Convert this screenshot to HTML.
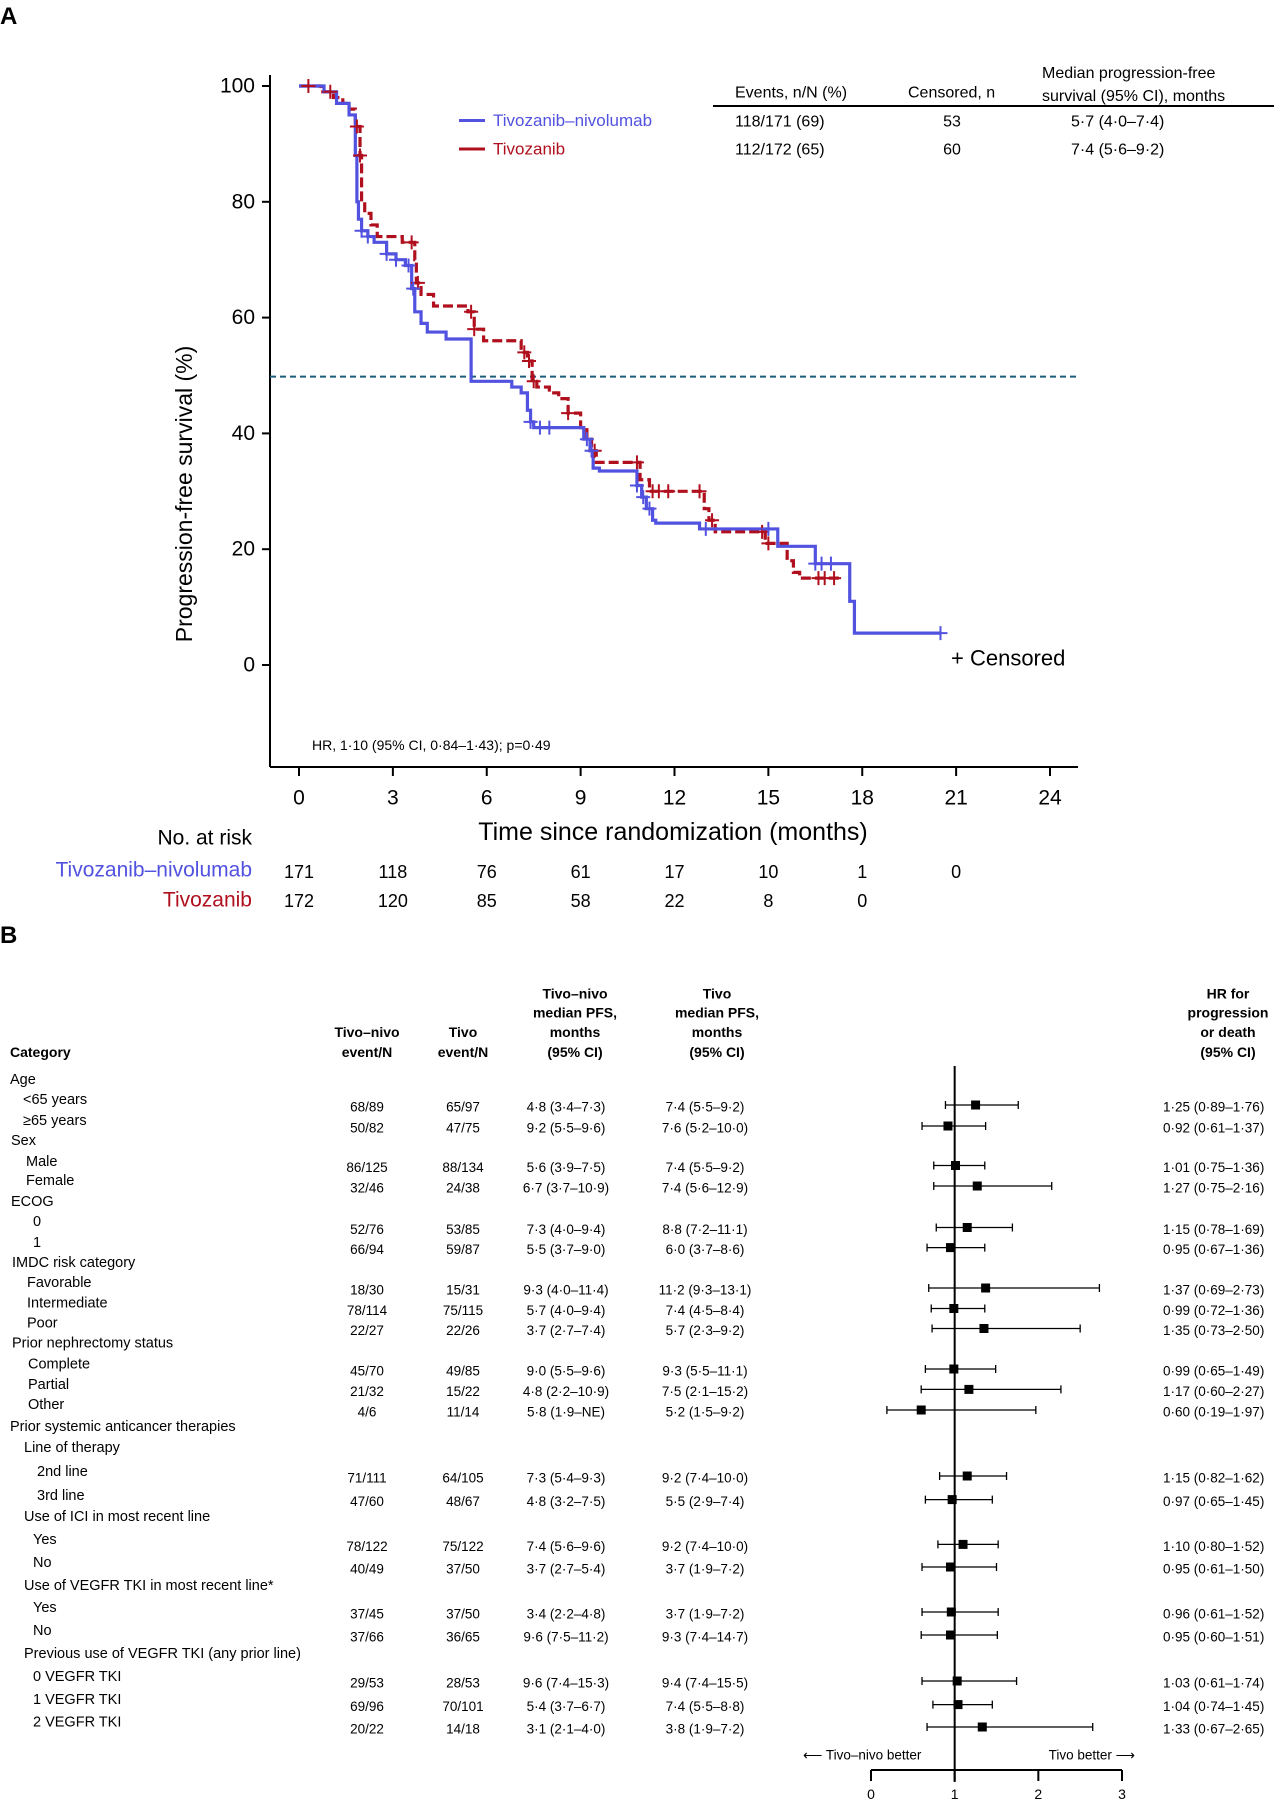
<!DOCTYPE html>
<html><head><meta charset="utf-8"><style>
html,body{margin:0;padding:0;background:#fff;}
svg{display:block;font-family:"Liberation Sans",Arial,sans-serif;}
</style></head><body>
<svg id="fig" width="1274" height="1800" viewBox="0 0 1274 1800">
<text x="0" y="24" font-size="24" font-weight="bold">A</text>
<g id="km">
  <line x1="270" y1="75" x2="270" y2="767" stroke="#000" stroke-width="2"/>
  <line x1="270" y1="767" x2="1078" y2="767" stroke="#000" stroke-width="2"/>
  <line x1="270" y1="376.6" x2="1078" y2="376.6" stroke="#1d5c7a" stroke-width="2" stroke-dasharray="6,4"/>
  <text transform="translate(184,494) rotate(-90)" text-anchor="middle" dominant-baseline="central" font-size="23">Progression-free survival (%)</text>
  <text x="673" y="832" text-anchor="middle" dominant-baseline="central" font-size="25">Time since randomization (months)</text>
  <g>
    <line x1="459" y1="120.5" x2="485" y2="120.5" stroke="#5252e0" stroke-width="3"/>
    <text x="493" y="120.5" dominant-baseline="central" font-size="17" fill="#5252e0">Tivozanib–nivolumab</text>
    <line x1="459" y1="149" x2="485" y2="149" stroke="#b0101e" stroke-width="3"/>
    <text x="493" y="149" dominant-baseline="central" font-size="17" fill="#b0101e">Tivozanib</text>
  </g>
  <g font-size="16">
    <text x="735" y="93" dominant-baseline="central">Events, n/N (%)</text>
    <text x="908" y="93" dominant-baseline="central">Censored, n</text>
    <text x="1042" y="73.5" dominant-baseline="central">Median progression-free</text>
    <text x="1042" y="96.5" dominant-baseline="central">survival (95% CI), months</text>
    <line x1="713" y1="106" x2="1274" y2="106" stroke="#000" stroke-width="2"/>
    <text x="735" y="122" dominant-baseline="central">118/171 (69)</text>
    <text x="952" y="122" text-anchor="middle" dominant-baseline="central">53</text>
    <text x="1071" y="122" dominant-baseline="central">5·7 (4·0–7·4)</text>
    <text x="735" y="150" dominant-baseline="central">112/172 (65)</text>
    <text x="952" y="150" text-anchor="middle" dominant-baseline="central">60</text>
    <text x="1071" y="150" dominant-baseline="central">7·4 (5·6–9·2)</text>
  </g>
  <text x="951" y="658" dominant-baseline="central" font-size="22">+ Censored</text>
  <text x="312" y="745" dominant-baseline="central" font-size="14">HR, 1·10 (95% CI, 0·84–1·43); p=0·49</text>
  <text x="252" y="838" text-anchor="end" dominant-baseline="central" font-size="21">No. at risk</text>
  <text x="252" y="870" text-anchor="end" dominant-baseline="central" font-size="21" fill="#5252e0">Tivozanib–nivolumab</text>
  <text x="252" y="900" text-anchor="end" dominant-baseline="central" font-size="21" fill="#b0101e">Tivozanib</text>
</g>
<text x="0" y="943" font-size="24" font-weight="bold">B</text>
<g id="forest" font-size="13.5">
  <g font-weight="bold" font-size="14" text-anchor="middle">
    <text x="10" y="1052" text-anchor="start" dominant-baseline="central">Category</text>
    <text x="367" y="1032" dominant-baseline="central">Tivo–nivo</text>
    <text x="367" y="1052" dominant-baseline="central">event/N</text>
    <text x="463" y="1032" dominant-baseline="central">Tivo</text>
    <text x="463" y="1052" dominant-baseline="central">event/N</text>
    <text x="575" y="993.6" dominant-baseline="central">Tivo–nivo</text>
    <text x="575" y="1012.5" dominant-baseline="central">median PFS,</text>
    <text x="575" y="1032" dominant-baseline="central">months</text>
    <text x="575" y="1052" dominant-baseline="central">(95% CI)</text>
    <text x="717" y="993.6" dominant-baseline="central">Tivo</text>
    <text x="717" y="1012.5" dominant-baseline="central">median PFS,</text>
    <text x="717" y="1032" dominant-baseline="central">months</text>
    <text x="717" y="1052" dominant-baseline="central">(95% CI)</text>
    <text x="1228" y="993.6" dominant-baseline="central">HR for</text>
    <text x="1228" y="1012.5" dominant-baseline="central">progression</text>
    <text x="1228" y="1032" dominant-baseline="central">or death</text>
    <text x="1228" y="1052" dominant-baseline="central">(95% CI)</text>
  </g>
  <text x="803" y="1755" dominant-baseline="central" font-size="13.5">⟵ Tivo–nivo better</text>
  <text x="1135" y="1755" text-anchor="end" dominant-baseline="central" font-size="13.5">Tivo better ⟶</text>
</g>
</svg>
<script>
// ---- KM data ----
const xTicks = [0,3,6,9,12,15,18,21,24];
const yTicks = [0,20,40,60,80,100];
const blueTimes = [0.8,1.2,1.6,1.8,1.85,1.9,2.0,2.2,2.4,2.8,3.1,3.4,3.6,3.7,3.9,4.1,4.7,5.5,6.8,7.1,7.3,7.4,7.5,9.1,9.3,9.4,9.6,10.8,10.95,11.1,11.3,11.4,12.8,15.3,16.5,17.6,17.75];
const blueSurv = [99,97,95,88,80,77,75,74,73,71,70,69,65,61,59,57.5,56.3,49,48,47,44,42,41,39,37,34,33.5,31,29,27,25,24.5,23.5,20.5,17.5,11,5.5];
const blueEnd = 20.5;
const redTimes = [0.7,1.1,1.4,1.6,1.8,1.95,2.0,2.1,2.3,2.5,3.3,3.7,3.75,3.9,4.3,5.4,5.6,5.9,7.1,7.3,7.45,7.6,8.0,8.3,8.6,9.0,9.2,9.35,9.5,10.9,11.2,12.95,13.1,13.3,14.9,15.6,15.8,16.0];
const redSurv = [99,98,97,96,93,88,80,78,76,74,73,70,66,64,62,61,58,56,54,52.5,49,48,47,46,43.5,41,39,37,35,32,30,27,25,23,21,18,16,15];
const redEnd = 17.3;
const blueCensor = [2.0,2.2,2.8,3.1,3.5,3.65,7.4,7.7,8.0,9.2,9.35,10.8,11.0,11.2,13.0,15.0,16.5,16.7,17.0,20.5];
const redCensor = [0.3,1.0,1.85,1.95,3.6,3.8,5.5,5.6,7.2,7.35,7.5,8.6,9.45,10.8,11.3,11.5,11.8,12.8,13.2,14.8,15.0,16.6,16.8,17.1];
const riskBlue = [171,118,76,61,17,10,1,0];
const riskRed = [172,120,85,58,22,8,0];

// ---- Forest data ----
const hrVals = [1.25,0.92,1.01,1.27,1.15,0.95,1.37,0.99,1.35,0.99,1.17,0.60,1.15,0.97,1.10,0.95,0.96,0.95,1.03,1.04,1.33];
const hrLo = [0.89,0.61,0.75,0.75,0.78,0.67,0.69,0.72,0.73,0.65,0.60,0.19,0.82,0.65,0.80,0.61,0.61,0.60,0.61,0.74,0.67];
const hrHi = [1.76,1.37,1.36,2.16,1.69,1.36,2.73,1.36,2.50,1.49,2.27,1.97,1.62,1.45,1.52,1.50,1.52,1.51,1.74,1.45,2.65];
const tnEvents = ["68/89","50/82","86/125","32/46","52/76","66/94","18/30","78/114","22/27","45/70","21/32","4/6","71/111","47/60","78/122","40/49","37/45","37/66","29/53","69/96","20/22"];
const tEvents = ["65/97","47/75","88/134","24/38","53/85","59/87","15/31","75/115","22/26","49/85","15/22","11/14","64/105","48/67","75/122","37/50","37/50","36/65","28/53","70/101","14/18"];
const tnPfs = ["4·8 (3·4–7·3)","9·2 (5·5–9·6)","5·6 (3·9–7·5)","6·7 (3·7–10·9)","7·3 (4·0–9·4)","5·5 (3·7–9·0)","9·3 (4·0–11·4)","5·7 (4·0–9·4)","3·7 (2·7–7·4)","9·0 (5·5–9·6)","4·8 (2·2–10·9)","5·8 (1·9–NE)","7·3 (5·4–9·3)","4·8 (3·2–7·5)","7·4 (5·6–9·6)","3·7 (2·7–5·4)","3·4 (2·2–4·8)","9·6 (7·5–11·2)","9·6 (7·4–15·3)","5·4 (3·7–6·7)","3·1 (2·1–4·0)"];
const tPfs = ["7·4 (5·5–9·2)","7·6 (5·2–10·0)","7·4 (5·5–9·2)","7·4 (5·6–12·9)","8·8 (7·2–11·1)","6·0 (3·7–8·6)","11·2 (9·3–13·1)","7·4 (4·5–8·4)","5·7 (2·3–9·2)","9·3 (5·5–11·1)","7·5 (2·1–15·2)","5·2 (1·5–9·2)","9·2 (7·4–10·0)","5·5 (2·9–7·4)","9·2 (7·4–10·0)","3·7 (1·9–7·2)","3·7 (1·9–7·2)","9·3 (7·4–14·7)","9·4 (7·4–15·5)","7·4 (5·5–8·8)","3·8 (1·9–7·2)"];
const hrTicks = [0,1,2,3];
const labels = ["Age","<65 years","≥65 years","Sex","Male","Female","ECOG","0","1","IMDC risk category","Favorable","Intermediate","Poor","Prior nephrectomy status","Complete","Partial","Other","Prior systemic anticancer therapies","Line of therapy","2nd line","3rd line","Use of ICI in most recent line","Yes","No","Use of VEGFR TKI in most recent line*","Yes","No","Previous use of VEGFR TKI (any prior line)","0 VEGFR TKI","1 VEGFR TKI","2 VEGFR TKI"];

// layout (not data)
const labelX = [10,23,23,11,26,26,11,33,33,12,27,27,27,12,28,28,28,10,24,37,37,24,33,33,24,33,33,24,33,33,33];
const labelY = [1080,1100,1121,1141,1162,1181,1202,1222,1243,1263,1283,1303.6,1323.7,1343.7,1364.4,1385,1405,1427,1448,1472,1496,1517,1540,1563,1586,1608,1631,1654,1677,1700,1722.6];
const rowY = [1107,1128,1167.5,1188,1229.5,1249.6,1290,1310.5,1330.5,1371,1391.4,1412,1478,1501.6,1546.4,1569,1614,1637,1683,1706.6,1729];

const NS = "http://www.w3.org/2000/svg";
function mk(tag, attrs, parent){const e=document.createElementNS(NS,tag);for(const k in attrs)e.setAttribute(k,attrs[k]);parent.appendChild(e);return e;}
const km = document.getElementById('km');
const xA = t => 299 + t*(1050-299)/24;
const yA = s => 665 - s*(665-86)/100;

xTicks.forEach(t=>{
  const l = mk('line',{x1:xA(t),x2:xA(t),y1:767,y2:776,stroke:'#000','stroke-width':2},km);
  
  
  const tx = mk('text',{x:xA(t),y:798,'text-anchor':'middle','dominant-baseline':'central','font-size':21},km);
  tx.textContent = t;
  
  
});
yTicks.forEach(s=>{
  const l = mk('line',{x1:262,x2:270,y1:yA(s),y2:yA(s),stroke:'#000','stroke-width':2},km);
  
  
  const tx = mk('text',{x:255,y:yA(s),'text-anchor':'end','dominant-baseline':'central','font-size':21},km);
  tx.textContent = s;
  
  
});
function stepPath(ts, ss, end){
  let d = 'M'+xA(0)+' '+yA(100);
  for(let i=0;i<ts.length;i++){d+=' H'+xA(ts[i])+' V'+yA(ss[i]);}
  d+=' H'+xA(end);
  return d;
}
function survAt(ts, ss, t){let s=100;for(let i=0;i<ts.length;i++){if(ts[i]<=t)s=ss[i];}return s;}
const redPath = mk('path',{d:stepPath(redTimes,redSurv,redEnd),fill:'none',stroke:'#b0101e','stroke-width':3.2,'stroke-dasharray':'10,4'},km);


const bluePath = mk('path',{d:stepPath(blueTimes,blueSurv,blueEnd),fill:'none',stroke:'#5252e0','stroke-width':3.2},km);


function censor(t, s, col, name){
  const x=xA(t), y=yA(s);
  const p = mk('path',{d:`M${x-7} ${y} H${x+7} M${x} ${y-7} V${y+7}`,stroke:col,'stroke-width':2},km);
  
  
}
redCensor.forEach(t=>censor(t, survAt(redTimes,redSurv,t), '#b0101e', 'censor-mark-tivo'));
blueCensor.forEach(t=>censor(t, survAt(blueTimes,blueSurv,t), '#5252e0', 'censor-mark-tivo-nivo'));
riskBlue.forEach((n,i)=>{
  const tx = mk('text',{x:xA(xTicks[i]),y:872,'text-anchor':'middle','dominant-baseline':'central','font-size':18},km);
  tx.textContent = n;
  
  
});
riskRed.forEach((n,i)=>{
  const tx = mk('text',{x:xA(xTicks[i]),y:901,'text-anchor':'middle','dominant-baseline':'central','font-size':18},km);
  tx.textContent = n;
  
  
});

// ---- Forest ----
const fo = document.getElementById('forest');
const xH = v => 871 + v*(1122-871)/3;
labels.forEach((s,i)=>{
  const tx = mk('text',{x:labelX[i],y:labelY[i],'dominant-baseline':'central','font-size':14.5},fo);
  tx.textContent = s;
  
  
});
function cell(str,x,y,anchor,name){
  const tx = mk('text',{x:x,y:y,'text-anchor':anchor,'dominant-baseline':'central'},fo);
  tx.textContent = str;
  
  
}
rowY.forEach((y,i)=>{
  cell(tnEvents[i],367,y,'middle','tn-event-cell');
  cell(tEvents[i],463,y,'middle','t-event-cell');
  cell(tnPfs[i],566,y,'middle','tn-pfs-cell');
  cell(tPfs[i],705,y,'middle','t-pfs-cell');
  cell(hrVals[i].toFixed(2).replace('.','·')+' ('+hrLo[i].toFixed(2).replace('.','·')+'–'+hrHi[i].toFixed(2).replace('.','·')+')',1163,y,'start','hr-cell');
  const my = y-2;
  const ci = mk('path',{d:`M${xH(hrLo[i])} ${my} H${xH(hrHi[i])} M${xH(hrLo[i])} ${my-4} V${my+4} M${xH(hrHi[i])} ${my-4} V${my+4}`,stroke:'#000','stroke-width':1.3,fill:'none'},fo);
  
  
  const sq = mk('rect',{x:xH(hrVals[i])-4.5,y:my-4.5,width:9,height:9,fill:'#000'},fo);
  
  
});
const refLine = mk('line',{x1:xH(1),x2:xH(1),y1:1066,y2:1782,stroke:'#000','stroke-width':2},fo);


const hAxis = mk('line',{x1:xH(0),x2:xH(3),y1:1770,y2:1770,stroke:'#000','stroke-width':2},fo);


hrTicks.forEach(v=>{
  const l = mk('line',{x1:xH(v),x2:xH(v),y1:1770,y2:1781,stroke:'#000','stroke-width':2},fo);
  
  
  const tx = mk('text',{x:xH(v),y:1794,'text-anchor':'middle','dominant-baseline':'central','font-size':14},fo);
  tx.textContent = v;
  
  
});
</script>
</body></html>
